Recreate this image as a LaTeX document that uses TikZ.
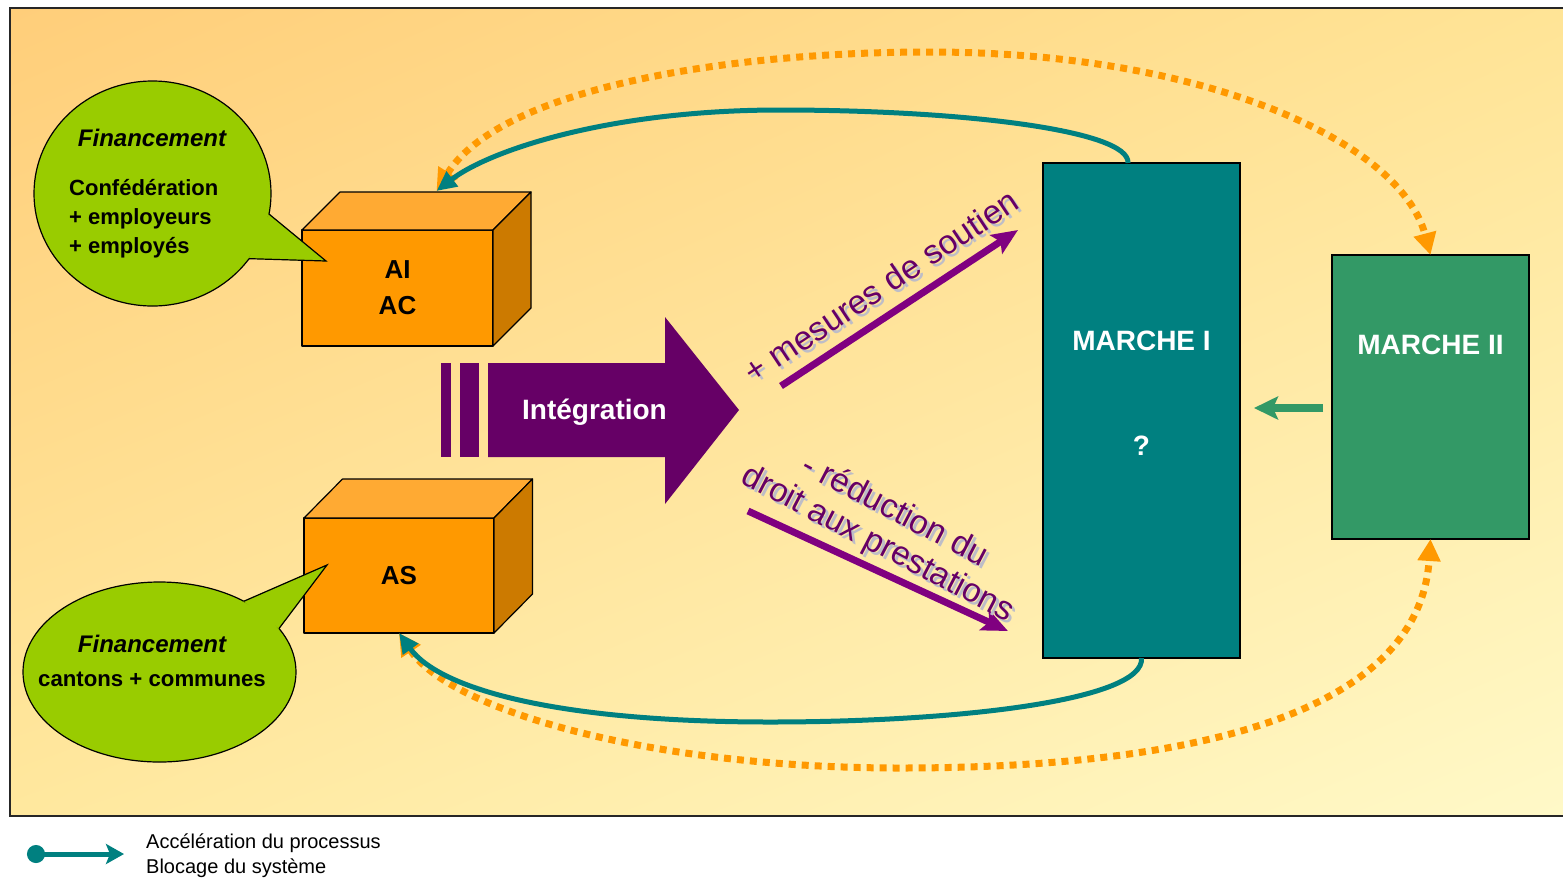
\documentclass[tikz,border=0pt]{standalone}
\usepackage{fontspec}
\setmainfont{Liberation Sans}
\usetikzlibrary{arrows.meta,shapes.geometric,calc,shadings}
\definecolor{bgTL}{RGB}{255,206,122}
\definecolor{bgTR}{RGB}{255,228,150}
\definecolor{bgBL}{RGB}{255,232,158}
\definecolor{bgBR}{RGB}{255,249,200}
\definecolor{boxF}{HTML}{FF9900}
\definecolor{boxT}{HTML}{FFAA33}
\definecolor{boxS}{HTML}{CC7A00}
\definecolor{bubG}{HTML}{99CC00}
\definecolor{tealC}{HTML}{008080}
\definecolor{mtwoC}{HTML}{339966}
\definecolor{purpA}{HTML}{660066}
\definecolor{purpB}{HTML}{800080}
\definecolor{shadowC}{HTML}{BDBDC8}
\definecolor{orangeC}{HTML}{FF9900}
\tikzset{
  face/.style={draw=black, line width=1.2pt, line join=round},
  boxfront/.style={face, fill=boxF, minimum width=191pt, minimum height=116pt, inner sep=0pt, outer sep=0pt, font=\fontsize{26}{36}\selectfont\bfseries, align=center},
  bubble/.style={ellipse, draw=black, line width=1.2pt, fill=bubG, inner sep=0pt, outer sep=0pt},
  market/.style={draw=black, line width=1.2pt, inner sep=0pt, outer sep=0pt},
  mtext/.style={text=white, font=\fontsize{28}{34}\selectfont\bfseries, inner sep=0pt},
  fin/.style={font=\fontsize{24}{28}\selectfont\bfseries\itshape, inner sep=0pt},
  fintext/.style={font=\fontsize{22}{29}\selectfont\bfseries, inner sep=0pt},
  tealarrow/.style={draw=tealC, line width=5pt, -{Triangle[length=20pt,width=18pt]}},
  dotarrow/.style={draw=orangeC, line width=7pt, dash pattern=on 7pt off 6pt, {Triangle[length=22pt,width=22pt]}-{Triangle[length=22pt,width=22pt]}},
  slantarrow/.style={draw=purpB, line width=7pt, -{Stealth[length=26pt,width=22pt,inset=5pt]}},
  slanttext/.style={font=\fontsize{33.5}{37}\selectfont, align=center, inner sep=0pt},
  legendtext/.style={font=\fontsize{20}{24}\selectfont, inner sep=0pt, anchor=west},
}
\begin{document}
\begin{tikzpicture}[x=1pt,y=-1pt]
\useasboundingbox (0,0) rectangle (1563,879);
\clip (0,0) rectangle (1563,879);
\fill[white] (0,0) rectangle (1563,879);
% background panel
\shade[upper left=bgTL, upper right=bgTR, lower left=bgBL, lower right=bgBR] (10,8) rectangle (1575,816);
\draw[line width=1.5pt, draw=black!85] (10,8) rectangle (1575,816);

% box AI / AC
\node[boxfront] (ai) at (397.5,288) {AI\\AC};
\draw[face, fill=boxT] (ai.north west) -- ($(ai.north west)+(38,-38)$) -- ($(ai.north east)+(38,-38)$) -- (ai.north east) -- cycle;
\draw[face, fill=boxS] (ai.north east) -- ($(ai.north east)+(38,-38)$) -- ($(ai.south east)+(38,-38)$) -- (ai.south east) -- cycle;
\coordinate (aitop) at ($(ai.north)+(39,-39)$);

% box AS
\node[boxfront, minimum width=190pt, minimum height=115pt] (as) at (399,575.5) {AS};
\draw[face, fill=boxT] (as.north west) -- ($(as.north west)+(38.5,-39)$) -- ($(as.north east)+(38.5,-39)$) -- (as.north east) -- cycle;
\draw[face, fill=boxS] (as.north east) -- ($(as.north east)+(38.5,-39)$) -- ($(as.south east)+(38.5,-39)$) -- (as.south east) -- cycle;

% speech bubble 1
\node[bubble, minimum width=237pt, minimum height=225pt] (bub1) at (152.5,193.5) {};
\coordinate (t1) at (326,261);
\filldraw[fill=bubG, draw=bubG, line width=0.6pt] (bub1.-10) -- (t1) -- (bub1.-34) -- cycle;
\draw[line width=1.2pt] (bub1.-10) -- (t1) -- (bub1.-34);
\node[fin] (fin1) at (152,138) {Financement};
\node[fintext, align=left, anchor=west] (fin1t) at (69,219) {Confédération\\+ employeurs\\+ employés};

% speech bubble 2
\node[bubble, minimum width=273pt, minimum height=180pt] (bub2) at (159.5,672) {};
\coordinate (t2) at (327,565);
\filldraw[fill=bubG, draw=bubG, line width=0.6pt] (bub2.40) -- (t2) -- (bub2.20) -- cycle;
\draw[line width=1.2pt] (bub2.40) -- (t2) -- (bub2.20);
\node[fin] (fin2) at (152,644) {Financement};
\node[fintext, font=\fontsize{22.2}{28}\selectfont\bfseries] (fin2t) at (152,679) {cantons + communes};

% integration arrow
\fill[purpA] (441,363) rectangle (451,457);
\fill[purpA] (460,363) rectangle (479,457);
\fill[purpA] (488,363) -- (665,363) -- (665,317) -- (739,410) -- (665,504) -- (665,457) -- (488,457) -- cycle;
\node[mtext] (integ) at (594.5,412) {Intégration};

% markets
\node[market, fill=tealC, minimum width=197pt, minimum height=495pt] (m1) at (1141.5,410.5) {};
\node[mtext] (m1l) at (1141.5,341) {MARCHE I};
\node[mtext] (m1q) at (1141.5,446) {?};
\node[market, fill=mtwoC, minimum width=197pt, minimum height=284pt] (m2) at (1430.5,397) {};
\node[mtext] (m2l) at (1430.5,345) {MARCHE II};

% slanted arrows
\coordinate (s1a) at (781,386);
\coordinate (s1b) at (1018,230);
\coordinate (s2a) at (748,511);
\coordinate (s2b) at (1008,631);
\draw[slantarrow] (s1a) -- (s1b);
\draw[slantarrow] (s2a) -- (s2b);
\node[slanttext, text=shadowC, rotate=33.5] at (884,289) {+ mesures de soutien};
\node[slanttext, text=purpA, rotate=33.5] (txt1) at (881,286) {+ mesures de soutien};
\node[slanttext, text=shadowC, rotate=-27.5] at (889,531) {- réduction du\\droit aux prestations};
\node[slanttext, text=purpA, rotate=-27.5] (txt2) at (886,528) {- réduction du\\droit aux prestations};

% green arrow
\draw[draw=mtwoC, line width=8pt, shorten <=9pt, shorten >=14pt, -{Stealth[length=24pt,width=23pt,inset=5pt]}] ($(m2.west)+(0,11)$) -- ($(m1.east)+(0,-2.5)$);

% orange dotted curves
\draw[dotarrow] (aitop) .. controls (500,90) and (720,52) .. (930,52) .. controls (1200,52) and (1400,140) .. (m2.north);
\draw[dotarrow] (as.south) .. controls (450,710) and (650,768) .. (900,768) .. controls (1230,768) and (1420,700) .. (m2.south);

% teal curves
\draw[tealarrow] ($(m1.north)+(-13.5,0)$) .. controls (1130,130) and (960,110) .. (780,110) .. controls (610,110) and (490,150) .. (aitop);
\draw[tealarrow] (m1.south) .. controls (1145,700) and (960,722) .. (770,722) .. controls (560,722) and (440,690) .. (as.south);

% legend
\coordinate (lg1) at (27,854);
\coordinate (lg2) at (124,854);
\draw[draw=tealC, line width=5pt, {Circle[length=18pt]}-{Stealth[length=18pt,width=20pt,inset=4pt]}] (lg1) -- (lg2);
\node[legendtext] (lgA) at (146,843) {Accélération du processus};
\node[legendtext] (lgB) at (146,868) {Blocage du système};
\end{tikzpicture}
\end{document}
